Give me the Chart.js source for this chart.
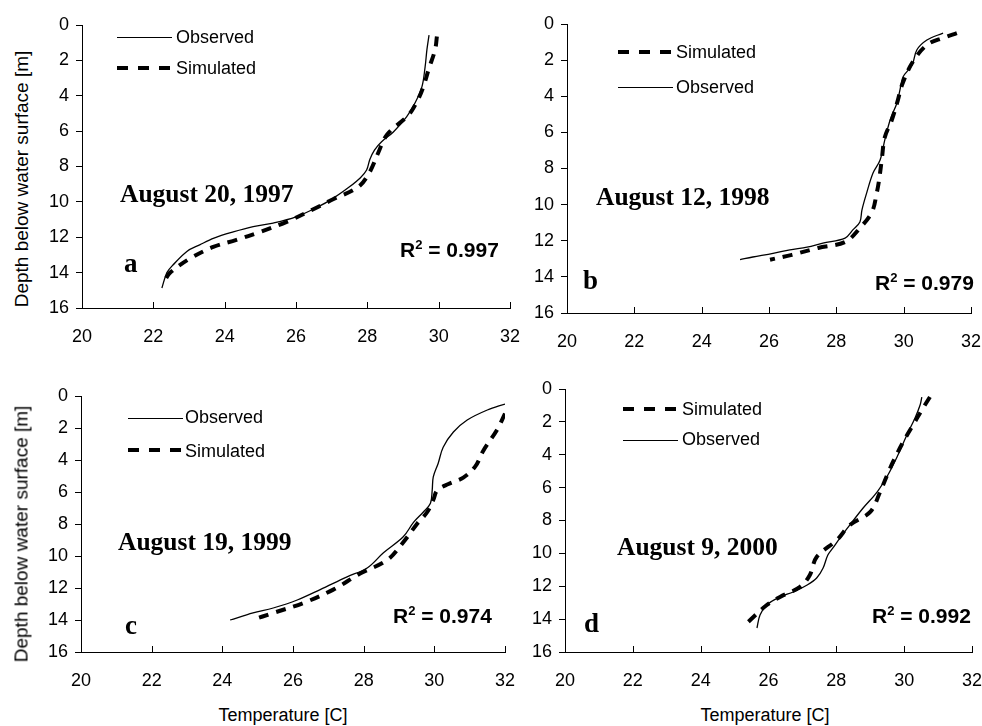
<!DOCTYPE html>
<html lang="en">
<head>
<meta charset="UTF-8">
<title>Temperature profiles</title>
<script src="https://cdn.jsdelivr.net/npm/chart.js"></script>
<style>
  html, body { margin: 0; padding: 0; background: #fff; overflow: hidden; }
  #wrap { position: relative; width: 982px; height: 726px; }
  canvas { position: absolute; }
  .txt { position: absolute; line-height: 1; white-space: nowrap; color: #000; }
  .sans { font-family: 'Liberation Sans', Arial, sans-serif; }
  .serif { font-family: 'Liberation Serif', 'Times New Roman', serif; font-weight: bold; }
  .date { font-size: 25.5px; }
  .letter { font-size: 27px; }
  .r2 { font-size: 21px; font-weight: bold; }
  .r2 sup { font-size: 0.62em; position: relative; top: -0.1em; vertical-align: top; }
  .leg { font-size: 18px; }
  .solid { position: absolute; height: 1px; background: #000; }
  .dash { position: absolute; height: 4px;
          background: repeating-linear-gradient(to right, #000 0 11px, transparent 11px 21px); }
  .ytitle { font-size: 19px; transform: translate(-50%, -50%) rotate(-90deg); }
  .xtitle { font-size: 18px; transform: translateX(-50%); }
</style>
</head>
<body>
<div id="wrap">
  <canvas id="ca" width="490" height="340" style="left:32px;top:13px"></canvas>
  <canvas id="cb" width="466" height="346" style="left:517px;top:12px"></canvas>
  <canvas id="cc" width="486" height="313" style="left:31px;top:384px"></canvas>
  <canvas id="cd" width="469" height="320" style="left:515px;top:377px"></canvas>

  <!-- axis titles -->
  <div class="txt sans ytitle" style="left:21px;top:179px">Depth below water surface [m]</div>
  <div class="txt sans ytitle" style="left:21px;top:534px">Depth below water surface [m]</div>
  <div class="txt sans xtitle" style="left:283px;top:706px">Temperature [C]</div>
  <div class="txt sans xtitle" style="left:765px;top:706px">Temperature [C]</div>

  <!-- panel a -->
  <div class="solid" style="left:117px;top:37px;width:55px"></div>
  <div class="txt sans leg" style="left:176px;top:28px">Observed</div>
  <div class="dash" style="left:117px;top:66px;width:57px"></div>
  <div class="txt sans leg" style="left:176px;top:59px">Simulated</div>
  <div class="txt serif date" style="left:120px;top:181px">August 20, 1997</div>
  <div class="txt serif letter" style="left:124px;top:250px">a</div>
  <div class="txt sans r2" style="left:400px;top:239px">R<sup>2</sup> = 0.997</div>

  <!-- panel b -->
  <div class="dash" style="left:618px;top:50px;width:57px"></div>
  <div class="txt sans leg" style="left:676px;top:43px">Simulated</div>
  <div class="solid" style="left:618px;top:87px;width:55px"></div>
  <div class="txt sans leg" style="left:676px;top:78px">Observed</div>
  <div class="txt serif date" style="left:596px;top:184px">August 12, 1998</div>
  <div class="txt serif letter" style="left:583px;top:267px">b</div>
  <div class="txt sans r2" style="left:875px;top:272px">R<sup>2</sup> = 0.979</div>

  <!-- panel c -->
  <div class="solid" style="left:128px;top:418px;width:55px"></div>
  <div class="txt sans leg" style="left:185px;top:408px">Observed</div>
  <div class="dash" style="left:128px;top:448px;width:57px"></div>
  <div class="txt sans leg" style="left:185px;top:442px">Simulated</div>
  <div class="txt serif date" style="left:118px;top:529px">August 19, 1999</div>
  <div class="txt serif letter" style="left:125px;top:612px">c</div>
  <div class="txt sans r2" style="left:393px;top:605px">R<sup>2</sup> = 0.974</div>

  <!-- panel d -->
  <div class="dash" style="left:623px;top:407px;width:57px"></div>
  <div class="txt sans leg" style="left:682px;top:400px">Simulated</div>
  <div class="solid" style="left:623px;top:440px;width:55px"></div>
  <div class="txt sans leg" style="left:682px;top:430px">Observed</div>
  <div class="txt serif date" style="left:617px;top:534px">August 9, 2000</div>
  <div class="txt serif letter" style="left:584px;top:610px">d</div>
  <div class="txt sans r2" style="left:872px;top:605px">R<sup>2</sup> = 0.992</div>
</div>

<script>
// tick values shared by all four panels
const xTickValues = [20, 22, 24, 26, 28, 30, 32];
const yTickValues = [0, 2, 4, 6, 8, 10, 12, 14, 16];

// a - August 20, 1997
const obsTempA = [29.73, 29.67, 29.62, 29.53, 29.34, 29.1, 28.73, 28.4, 28.2, 28.07, 27.98, 27.8, 27.5, 27.04, 26.6, 26.0, 25.36, 24.8, 24.24, 23.7, 23.3, 22.94, 22.55, 22.38, 22.24];
const obsDepthA = [0.57, 1.41, 2.37, 3.5, 4.4, 5.2, 6.05, 6.6, 7.07, 7.6, 8.2, 8.65, 9.15, 9.8, 10.3, 10.85, 11.2, 11.4, 11.7, 12.05, 12.43, 12.8, 13.57, 14.0, 14.87];
const simTempA = [29.95, 29.9, 29.72, 29.57, 29.4, 29.15, 28.55, 28.3, 28.07, 27.75, 27.04, 26.6, 25.74, 24.99, 24.33, 23.68, 23.03, 22.47, 22.33];
const simDepthA = [0.65, 1.4, 2.5, 3.5, 4.3, 5.1, 6.2, 7.25, 8.3, 9.15, 9.85, 10.3, 11.13, 11.7, 12.15, 12.55, 13.2, 14.0, 14.4];

// b - August 12, 1998
const obsTempB = [31.17, 30.69, 30.39, 30.25, 29.98, 29.89, 29.8, 29.6, 29.44, 29.3, 29.09, 28.9, 28.76, 28.7, 28.49, 28.26, 27.6, 27.13, 26.62, 26.12, 25.52, 25.14];
const obsDepthB = [0.5, 0.89, 1.44, 2.27, 2.93, 3.65, 4.37, 5.3, 6.42, 7.53, 8.25, 9.36, 10.3, 10.96, 11.4, 11.85, 12.13, 12.35, 12.5, 12.7, 12.9, 13.04];
const simTempB = [31.58, 31.2, 30.69, 30.25, 29.95, 29.83, 29.65, 29.44, 29.35, 29.27, 29.2, 29.06, 28.7, 28.26, 27.46, 26.68, 26.03];
const simDepthB = [0.5, 0.75, 1.16, 2.16, 3.38, 4.2, 5.3, 6.27, 7.5, 8.64, 9.36, 10.4, 11.3, 12.07, 12.4, 12.78, 13.05];

// c - August 19, 1999
const obsTempC = [32.0, 31.5, 30.93, 30.54, 30.25, 30.11, 29.97, 29.94, 29.89, 29.69, 29.41, 29.12, 28.56, 28.1, 27.53, 26.77, 26.12, 25.44, 24.87, 24.22];
const obsDepthC = [0.5, 0.875, 1.5, 2.25, 3.2, 4.2, 5.06, 5.88, 6.7, 7.25, 7.9, 8.8, 9.8, 10.75, 11.3, 12.1, 12.75, 13.25, 13.56, 14.0];
const simTempC = [32.0, 31.78, 31.39, 31.16, 30.82, 30.4, 30.08, 29.97, 29.8, 29.52, 29.1, 28.67, 27.9, 27.14, 26.29, 25.44, 24.84];
const simDepthC = [1.1, 2.1, 3.4, 4.4, 5.1, 5.5, 5.9, 6.5, 7.25, 7.97, 9.2, 10.25, 11.1, 12.1, 12.94, 13.56, 14.0];

// d - August 9, 2000
const obsTempD = [30.52, 30.47, 30.32, 30.08, 29.82, 29.52, 29.2, 28.79, 28.4, 28.11, 27.9, 27.75, 27.61, 27.42, 27.14, 26.73, 26.34, 25.95, 25.75, 25.66];
const obsDepthD = [0.49, 0.97, 1.76, 2.8, 4.0, 5.23, 6.27, 7.24, 8.27, 9.06, 9.67, 10.1, 10.89, 11.5, 11.92, 12.35, 12.65, 13.14, 13.75, 14.54];
const simTempD = [30.76, 30.52, 30.26, 29.97, 29.67, 29.5, 29.29, 29.0, 28.4, 28.02, 27.42, 27.22, 26.93, 26.34, 25.95, 25.4];
const simDepthD = [0.49, 1.28, 2.19, 3.22, 4.44, 5.23, 6.27, 7.48, 8.27, 9.18, 10.22, 11.31, 12.04, 12.65, 13.14, 14.17];

const sansFont = "'Liberation Sans', Arial, sans-serif";

function pts(t, d) {
  return t.map((v, i) => ({ x: v, y: d[i] }));
}

// Excel style: x-axis tick marks point up into the plot
const innerTicks = {
  id: 'innerTicks',
  afterDraw(chart) {
    const xs = chart.scales.x;
    const b = chart.chartArea.bottom;
    const ctx = chart.ctx;
    ctx.save();
    ctx.strokeStyle = '#000';
    ctx.lineWidth = 1;
    ctx.beginPath();
    xs.ticks.forEach(t => {
      const px = Math.round(xs.getPixelForValue(t.value)) + 0.5;
      ctx.moveTo(px, b);
      ctx.lineTo(px, b - 6);
    });
    ctx.stroke();
    ctx.restore();
  }
};

function makeChart(id, obsT, obsD, simT, simD) {
  new Chart(document.getElementById(id), {
    type: 'scatter',
    data: {
      datasets: [
        {
          label: 'Observed',
          data: pts(obsT, obsD),
          showLine: true,
          borderColor: '#000',
          borderWidth: 1.3,
          pointRadius: 0,
          tension: 0.35
        },
        {
          label: 'Simulated',
          data: pts(simT, simD),
          showLine: true,
          borderColor: '#000',
          borderWidth: 4,
          borderDash: [10, 8],
          pointRadius: 0,
          tension: 0.35
        }
      ]
    },
    options: {
      responsive: false,
      devicePixelRatio: 1,
      animation: false,
      layout: { padding: { top: 12, right: 12, left: 0, bottom: 0 } },
      plugins: { legend: { display: false }, tooltip: { enabled: false } },
      scales: {
        x: {
          type: 'linear',
          min: 20,
          max: 32,
          afterBuildTicks: s => { s.ticks = xTickValues.map(v => ({ value: v })); },
          afterFit: s => { s.height = 45; s.paddingLeft = 0; s.paddingRight = 0; },
          grid: { display: true, drawOnChartArea: false, drawTicks: false },
          border: { display: true, color: '#000', width: 1 },
          ticks: { color: '#000', font: { family: sansFont, size: 18 }, padding: 18, maxRotation: 0, autoSkip: false }
        },
        y: {
          type: 'linear',
          reverse: true,
          min: 0,
          max: 16,
          afterBuildTicks: s => { s.ticks = yTickValues.map(v => ({ value: v })); },
          afterFit: s => { s.width = 50; s.paddingTop = 0; s.paddingBottom = 0; },
          grid: { display: true, drawOnChartArea: false, drawTicks: true, tickLength: 6, color: '#000' },
          border: { display: true, color: '#000', width: 1 },
          ticks: { color: '#000', font: { family: sansFont, size: 18 }, padding: 7, autoSkip: false }
        }
      }
    },
    plugins: [innerTicks]
  });
}

makeChart('ca', obsTempA, obsDepthA, simTempA, simDepthA);
makeChart('cb', obsTempB, obsDepthB, simTempB, simDepthB);
makeChart('cc', obsTempC, obsDepthC, simTempC, simDepthC);
makeChart('cd', obsTempD, obsDepthD, simTempD, simDepthD);
</script>
</body>
</html>
